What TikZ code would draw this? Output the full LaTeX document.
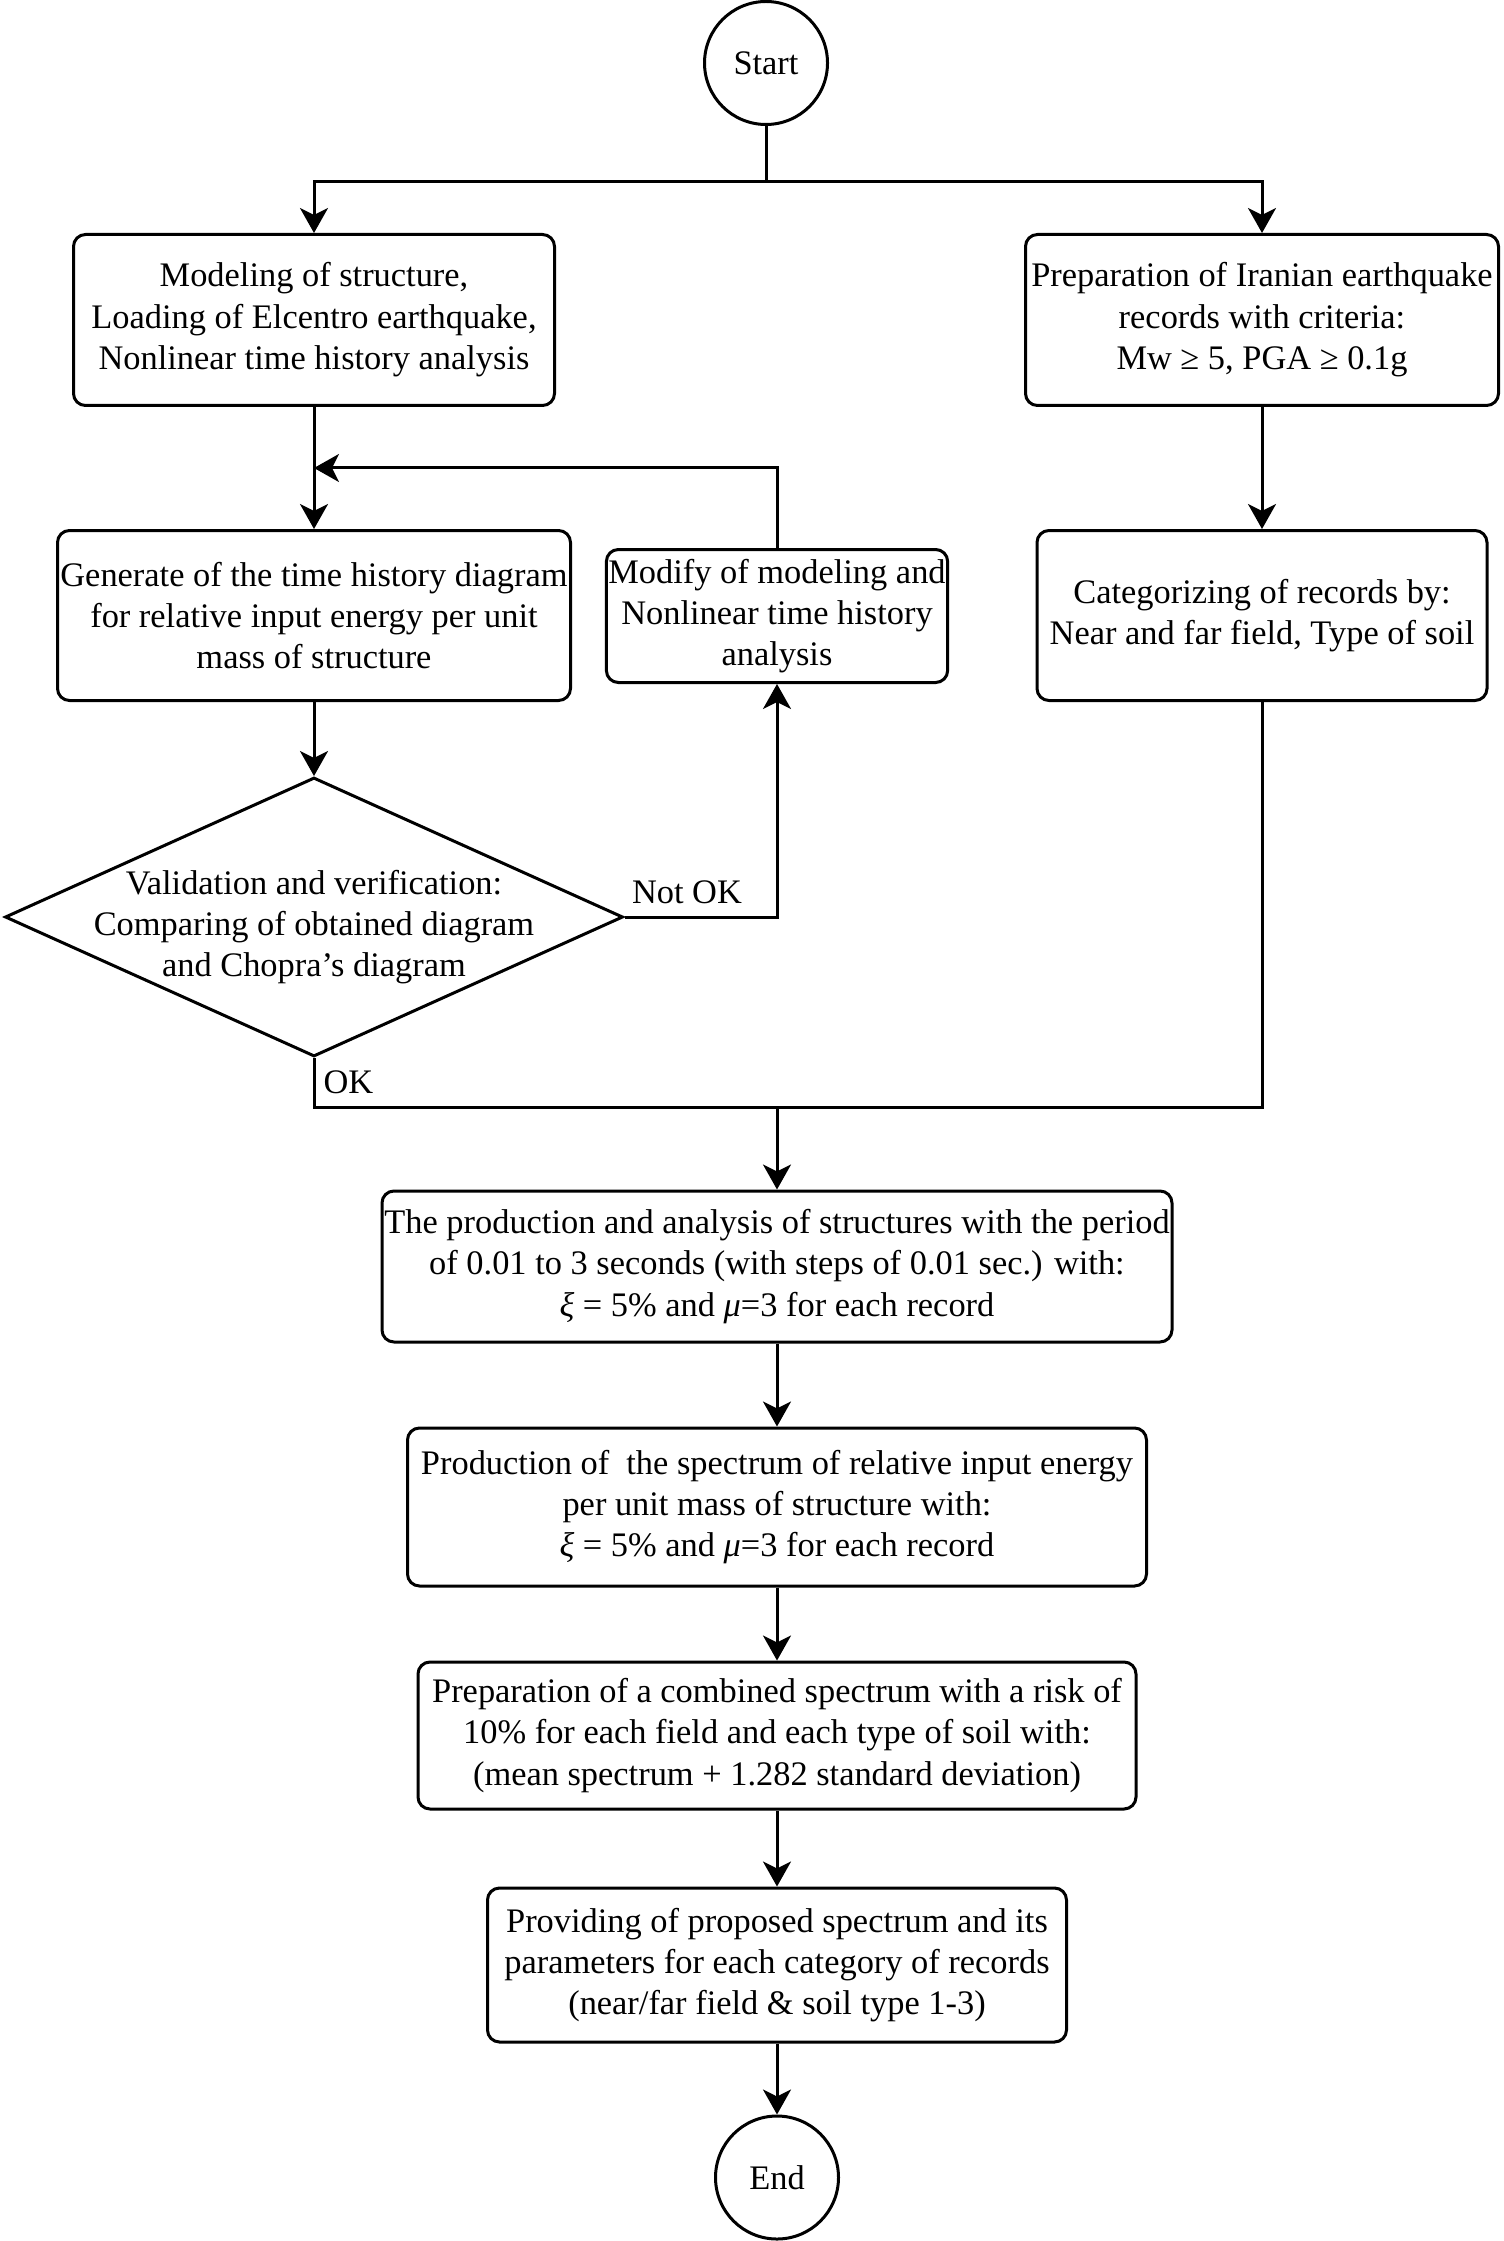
\documentclass[tikz,border=0pt]{standalone}
\usepackage{fontspec}
\setmainfont{Liberation Serif}
\usetikzlibrary{arrows.meta,positioning,shapes.geometric}

\begin{document}
\begin{tikzpicture}[node distance=38pt, every node/.style={font=\fontsize{17.2}{20.7}\selectfont}, box/.style={draw,line width=1.5pt,rounded corners=6pt,align=center,inner sep=1pt}, term/.style={draw,circle,line width=1.5pt,minimum size=61.5pt,inner sep=0pt}, decision/.style={draw,diamond,line width=1.5pt,aspect=2.2,minimum width=309pt,minimum height=139.5pt,inner sep=0pt}, arr/.style={-{Stealth[length=12.5pt,width=14pt,inset=3.5pt]}}, line width=1.5pt]
\useasboundingbox (0,0) rectangle (751.5pt,-1120.5pt);
\node[term] (start) at (383pt,-31.5pt) {Start};
\node[box,minimum width=240.5pt,minimum height=85.5pt] (model) at (157pt,-160pt) {Modeling of structure,\\Loading of Elcentro earthquake,\\Nonlinear time history analysis};
\node[box,minimum width=236.5pt,minimum height=85.5pt] (prep) at (631pt,-160pt) {Preparation of Iranian earthquake\\records with criteria:\\Mw ≥ 5, PGA ≥ 0.1g};
\node[box,below=61pt of model,minimum width=256.5pt,minimum height=85pt] (gen) {Generate of the time history diagram\\for relative input energy per unit\\mass of structure};
\node[box,below=61pt of prep,minimum width=225pt,minimum height=85pt] (categ) {Categorizing of records by:\\Near and far field, Type of soil};
\node[box,minimum width=170pt,minimum height=66.5pt] (modify) at (388.5pt,-308pt) {Modify of modeling and\\Nonlinear time history\\analysis};
\node[decision,below=37pt of gen] (valid) {};
\node[align=center,inner sep=0pt,yshift=-5pt] (validtxt) at (valid) {Validation and verification:\\Comparing of obtained diagram\\and Chopra’s diagram};
\coordinate (join) at (388.5pt,-553.75pt);
\node[box,below=41pt of join,minimum width=395pt,minimum height=75.5pt] (period) {The production and analysis of structures with the period\\of 0.01 to 3 seconds (with steps of 0.01 sec.) with:\\\textit{ξ} = 5\% and \textit{μ}=3 for each record};
\node[box,below=41.5pt of period,minimum width=369.5pt,minimum height=79pt] (spectrum) {Production of\ \ the spectrum of relative input energy\\per unit mass of structure with:\\\textit{ξ} = 5\% and \textit{μ}=3 for each record};
\node[box,below=36.5pt of spectrum,minimum width=359pt,minimum height=73.5pt] (combined) {Preparation of a combined spectrum with a risk of\\10\% for each field and each type of soil with:\\(mean spectrum + 1.282 standard deviation)};
\node[box,below=38pt of combined,minimum width=289.5pt,minimum height=77pt] (proposed) {Providing of proposed spectrum and its\\parameters for each category of records\\(near/far field \& soil type 1-3)};
\node[term,below=35.5pt of proposed] (end) {End};
\draw (start.south) -- ++(0,-28pt) coordinate (split);
\draw[arr] (split) -| (model.north);\draw[arr] (split) -| (prep.north);
\path (model.south) -- (gen.north) coordinate[midway] (back);
\draw[arr] (model)--(gen);\draw[arr] (modify.north) |- (back);
\draw[arr] (prep)--(categ);\draw[arr] (gen)--(valid);
\draw[arr] (valid.east) -| node[pos=0,anchor=base west,inner sep=0pt,xshift=3pt,yshift=7pt] (notok) {Not OK} (modify.south);
\draw (valid.south) |- node[pos=0.25,right,inner sep=4pt] (ok) {OK} (join);
\draw (categ.south) |- (join);
\draw[arr] (join)--(period);\draw[arr] (period)--(spectrum);\draw[arr] (spectrum)--(combined);\draw[arr] (combined)--(proposed);\draw[arr] (proposed)--(end);
\end{tikzpicture}
\end{document}
